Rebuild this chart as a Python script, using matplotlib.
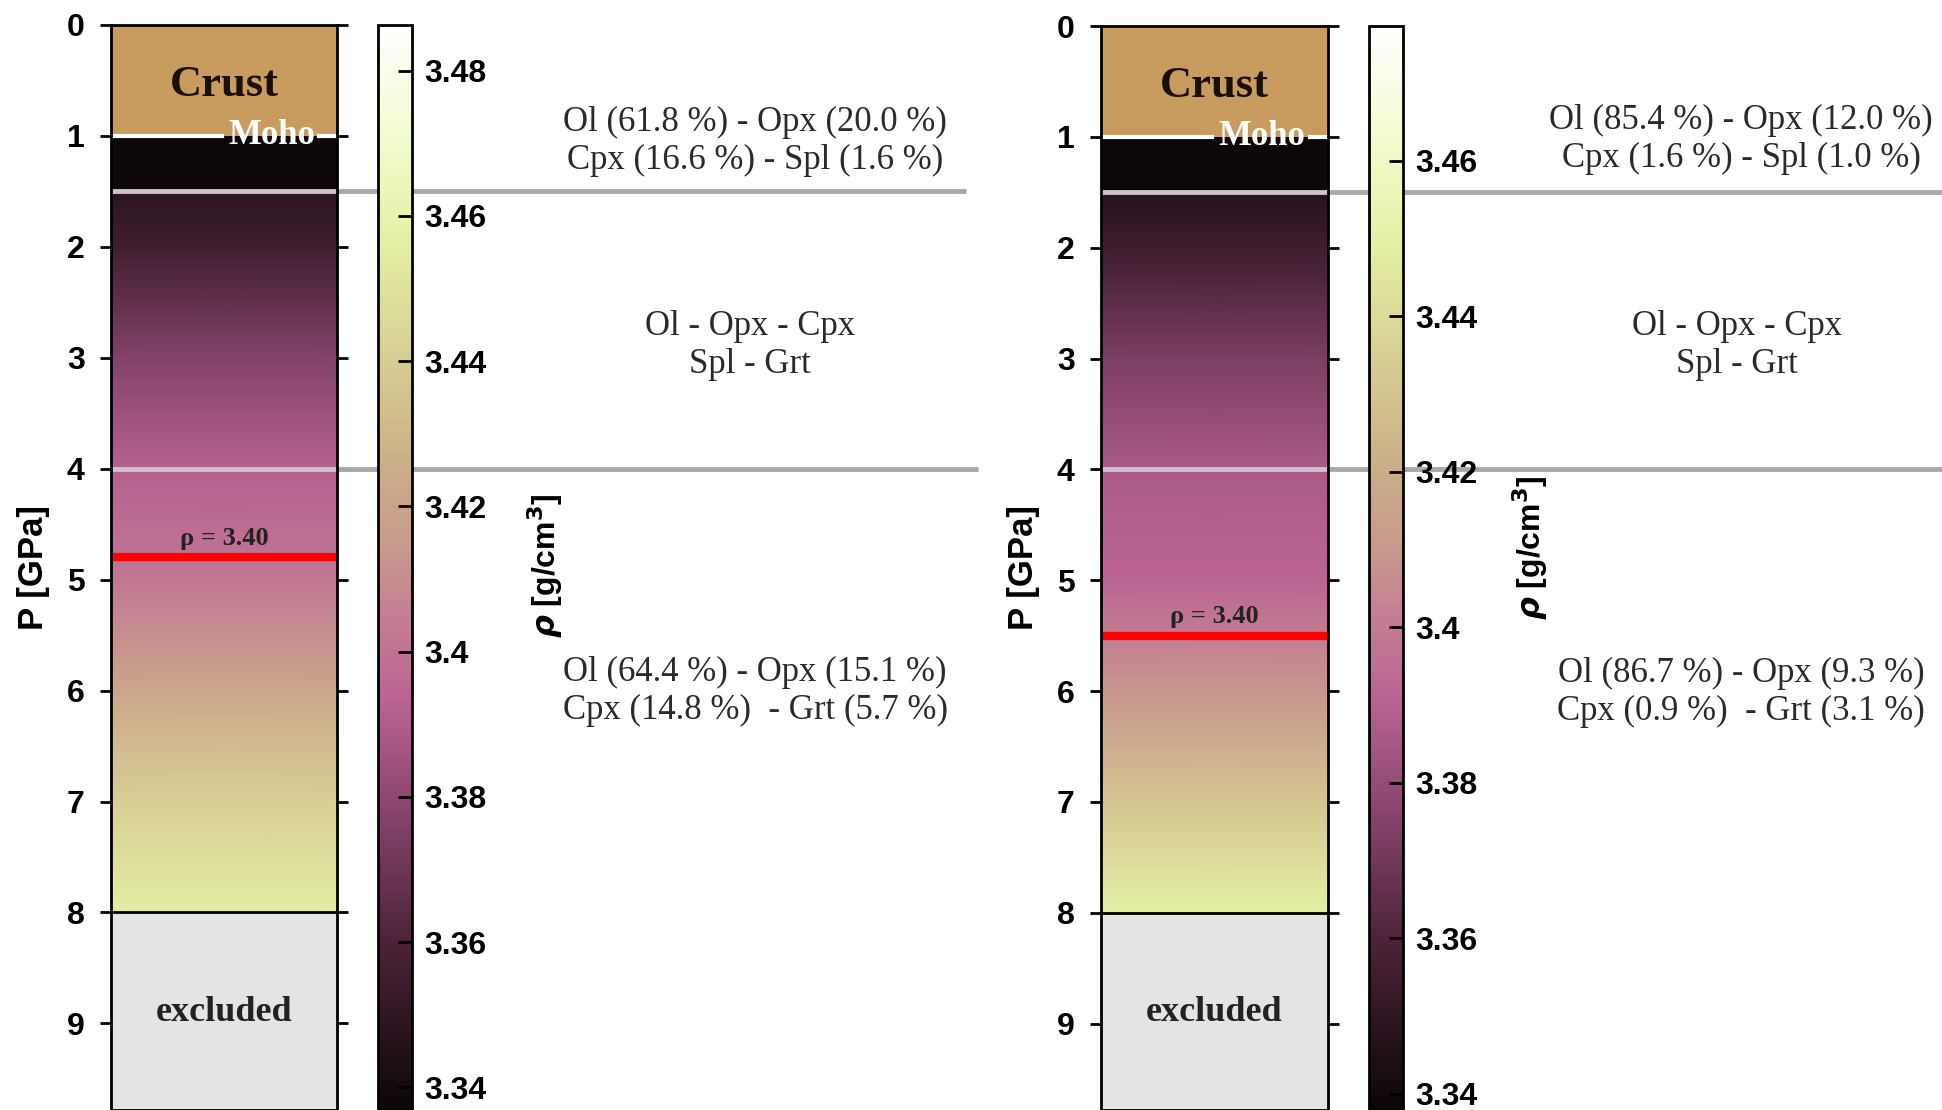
import numpy as np
import matplotlib
matplotlib.use("Agg")
import matplotlib.pyplot as plt
from matplotlib import cm, transforms
from matplotlib.colors import LinearSegmentedColormap, Normalize
from matplotlib.ticker import FuncFormatter

plt.rcParams["font.family"] = ["Liberation Sans", "DejaVu Sans"]
plt.rcParams["font.weight"] = "bold"

# --- data -------------------------------------------------------------
P_TICKS = list(range(10))
MOHO = 1.0
PHASE_BOUNDS = [1.5, 4.0]          # Spl-in / Grt-in boundaries [GPa]
P_EXCL = 8.0                       # excluded below this pressure
P_BOTTOM = 9.78

# mantle density profile (g/cm3) at pressure nodes (GPa)
P_NODES = [1.5, 2, 3, 4, 5, 6, 7, 8]
RHO_LEFT = [3.348, 3.356, 3.377, 3.392, 3.402, 3.421, 3.441, 3.455]
RHO_RIGHT = [3.347, 3.355, 3.373, 3.386, 3.391, 3.409, 3.431, 3.449]
RHO_BAND = 3.338                   # dark band between Moho and 1.5 GPa
RHO_MARK = 3.40

CLIM_LEFT = (3.3369, 3.4863)
CLIM_RIGHT = (3.3379, 3.4773)
CTICKS_LEFT = [3.34, 3.36, 3.38, 3.40, 3.42, 3.44, 3.46, 3.48]
CTICKS_RIGHT = [3.34, 3.36, 3.38, 3.40, 3.42, 3.44, 3.46]

MID_TXT = "Ol - Opx - Cpx\nSpl - Grt"
TOP_LEFT = "Ol (61.8 %) - Opx (20.0 %)\nCpx (16.6 %) - Spl (1.6 %)"
LOW_LEFT = "Ol (64.4 %) - Opx (15.1 %)\nCpx (14.8 %)  - Grt (5.7 %)"
TOP_RIGHT = "Ol (85.4 %) - Opx (12.0 %)\nCpx (1.6 %) - Spl (1.0 %)"
LOW_RIGHT = "Ol (86.7 %) - Opx (9.3 %)\nCpx (0.9 %)  - Grt (3.1 %)"

# --- style ------------------------------------------------------------
CMAP = LinearSegmentedColormap.from_list("rho", [
    (0.00, "#0c0708"), (0.15, "#4a2236"), (0.28, "#8a4670"),
    (0.38, "#bc6494"), (0.45, "#c47c94"), (0.52, "#c89a8c"),
    (0.60, "#ccb088"), (0.70, "#d8d094"), (0.80, "#e4f0a4"),
    (0.90, "#f2fcd0"), (1.00, "#ffffff")])
CRUST = "#c89b5f"
SERIF = ["Liberation Serif", "DejaVu Serif"]
W, H = 1942, 1110


def panel(fig, rect, crect, rho, clim, cticks, texts, line_end, lab_xy):
    ax = fig.add_axes(rect)
    norm = Normalize(*clim)
    ax.set_xlim(0, 1)
    ax.set_ylim(P_BOTTOM, 0)

    ax.axhspan(0, MOHO, color=CRUST, lw=0)
    ax.axhspan(MOHO, P_NODES[0], color=CMAP(norm(RHO_BAND)), lw=0)
    ax.pcolormesh([0, 1], P_NODES, np.column_stack([rho, rho]),
                  cmap=CMAP, norm=norm, shading="gouraud")
    ax.axhspan(P_EXCL, P_BOTTOM, color="#e4e4e4", lw=0)
    ax.axhline(P_EXCL, color="black", lw=2)

    # phase boundaries, light inside the column, grey outside
    trans = transforms.blended_transform_factory(fig.transFigure, ax.transData)
    x0 = rect[0] + rect[2]
    for pb, xe in zip(PHASE_BOUNDS, line_end):
        ax.axhline(pb, color="#cbc2cb", lw=3.5)
        ax.plot([x0, xe], [pb, pb], transform=trans, color="#a8a8a8",
                lw=3.5, clip_on=False, solid_capstyle="butt")

    # density marker
    p_mark = np.interp(RHO_MARK, rho, P_NODES)
    ax.axhline(p_mark, color="#ff0000", lw=6)
    ax.text(0.5, p_mark - 0.07, "ρ = 3.40", ha="center", va="bottom",
            family=SERIF, fontsize=19, fontweight="bold", color="#222222")

    # Moho
    ax.plot([0, 0.49], [MOHO, MOHO], color="white", lw=3)
    ax.plot([0.92, 1.0], [MOHO, MOHO], color="white", lw=3)
    ax.text(0.71, MOHO, "Moho", ha="center", va="center", color="white",
            family=SERIF, fontsize=25, fontweight="bold")
    ax.text(0.5, 0.54, "Crust", ha="center", va="center", color="#1a1008",
            family=SERIF, fontsize=32, fontweight="bold")
    ax.text(0.5, 8.9, "excluded", ha="center", va="center", color="#222222",
            family=SERIF, fontsize=26, fontweight="bold")

    ax.set_xticks([])
    ax.set_yticks(P_TICKS)
    ax.tick_params(axis="y", left=True, right=True, direction="out",
                   length=8, width=2, labelsize=23, pad=11)
    for s in ax.spines.values():
        s.set_linewidth(2)
    ax.set_ylabel("P [GPa]", fontsize=25, fontweight="bold", labelpad=12)

    # mineral assemblage labels
    for (xt, yt, txt) in texts:
        ax.text(xt, yt, txt, transform=trans, ha="center", va="center",
                family=SERIF, fontsize=25, fontweight="normal",
                color="#2a2a2a", linespacing=1.2)

    cax = fig.add_axes(crect)
    cb = fig.colorbar(cm.ScalarMappable(norm=norm, cmap=CMAP), cax=cax)
    cb.set_ticks(cticks)
    cb.ax.yaxis.set_major_formatter(FuncFormatter(lambda v, _: f"{v:g}"))
    cb.ax.tick_params(direction="in", length=10, width=2, labelsize=23, pad=9)
    cb.ax.minorticks_off()
    cb.outline.set_linewidth(2)
    fig.text(lab_xy[0], lab_xy[1], r"$\rho$ [g/cm$^3$]", rotation=90,
             ha="center", va="center", fontsize=23, fontweight="bold")
    return ax


def main():
    fig = plt.figure(figsize=(W / 100, H / 100), dpi=100)

    top_l = 1 - 24.8 / H
    panel(fig, [111 / W, 0, 226 / W, top_l], [378 / W, 0, 34 / W, top_l],
          RHO_LEFT, CLIM_LEFT, CTICKS_LEFT,
          [(755 / W, 1.055, TOP_LEFT), (750 / W, 2.89, MID_TXT),
           (755 / W, 6.01, LOW_LEFT)],
          [966 / W, 978 / W], (545 / W, 1 - 566 / H))

    top_r = 1 - 26 / H
    panel(fig, [1101 / W, 0, 227 / W, top_r], [1369 / W, 0, 34 / W, top_r],
          RHO_RIGHT, CLIM_RIGHT, CTICKS_RIGHT,
          [(1741 / W, 1.02, TOP_RIGHT), (1737 / W, 2.88, MID_TXT),
           (1741 / W, 6.01, LOW_RIGHT)],
          [1.0, 1.0], (1530 / W, 1 - 548 / H))

    fig.savefig("out.png", dpi=100)
    plt.close(fig)


if __name__ == "__main__":
    main()
